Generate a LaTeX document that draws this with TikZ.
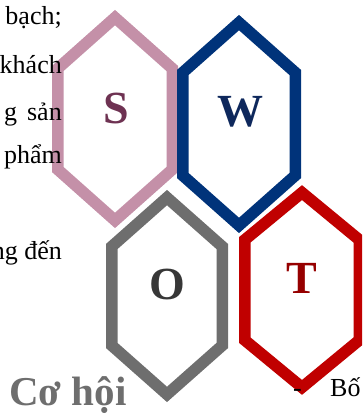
\documentclass[tikz,border=0pt]{standalone}
\usepackage{fontspec}
\setmainfont{Liberation Serif}
\definecolor{spink}{RGB}{196,144,168}
\definecolor{wblue}{RGB}{0,51,122}
\definecolor{ogray}{RGB}{110,110,110}
\definecolor{tred}{RGB}{192,0,0}
\definecolor{sletter}{RGB}{110,50,82}
\definecolor{wletter}{RGB}{14,40,92}
\definecolor{oletter}{RGB}{55,55,55}
\definecolor{tletter}{RGB}{150,0,0}
\newcommand\hexshape[6]{%
  \pgfmathsetmacro\hxp{#5-5.75}%
  \pgfmathsetmacro\hxd{\hxp*#6/#5}%
  \pgfmathsetmacro\hxt{#3+7.6}%
  \pgfmathsetmacro\hxb{#4-7.6}%
  \draw[hexline, draw=#1] (#2,\hxt) -- (#2+\hxp,\hxt+\hxd) -- (#2+\hxp,\hxb-\hxd) -- (#2,\hxb) -- (#2-\hxp,\hxb-\hxd) -- (#2-\hxp,\hxt+\hxd) -- cycle;%
}
\begin{document}
\begin{tikzpicture}[x=1pt,y=-1pt,
  hexline/.style={line width=11.5pt, line join=miter, fill=white},
  bodytext/.style={anchor=base east, inner sep=0pt, font=\fontsize{26}{30}\selectfont},
  bigletter/.style={inner sep=0pt, font=\fontsize{46}{50}\selectfont\bfseries}]
\useasboundingbox (0,0) rectangle (362,414);
\clip (0,0) rectangle (362,414);
% hexagons
\hexshape{spink}{115}{10}{228}{63}{56}
\hexshape{wblue}{239}{15}{233}{62}{55}
\hexshape{ogray}{167}{190}{402}{61}{54}
\hexshape{tred}{302}{185}{395}{63}{52}
% letters
\node[bigletter, text=sletter] (S) at (116,108) {S};
\node[bigletter, text=wletter] (W) at (240,112) {W};
\node[bigletter, text=oletter] (O) at (167,284) {O};
\node[bigletter, text=tletter] (T) at (302,278) {T};
% body text (in front of the shapes)
\node[bodytext] (l1) at (62,25) {bạch;};
\node[bodytext] (l2) at (62,74) {khách};
\node[bodytext] (l3) at (62,121) {g\hspace{10pt}sản};
\node[bodytext] (l4) at (62,163) {phẩm};
\node[bodytext] (l5) at (62,259) {ng đến};
\node[anchor=base west, inner sep=0pt, font=\fontsize{41}{45}\selectfont\bfseries, text=ogray] (coh) at (9,405) {Cơ hội};
\node[anchor=base west, inner sep=0pt, font=\fontsize{26}{30}\selectfont] (dash) at (293,396) {-};
\node[anchor=base west, inner sep=0pt, font=\fontsize{26}{30}\selectfont] (bo) at (330,396) {Bố};
\end{tikzpicture}
\end{document}
